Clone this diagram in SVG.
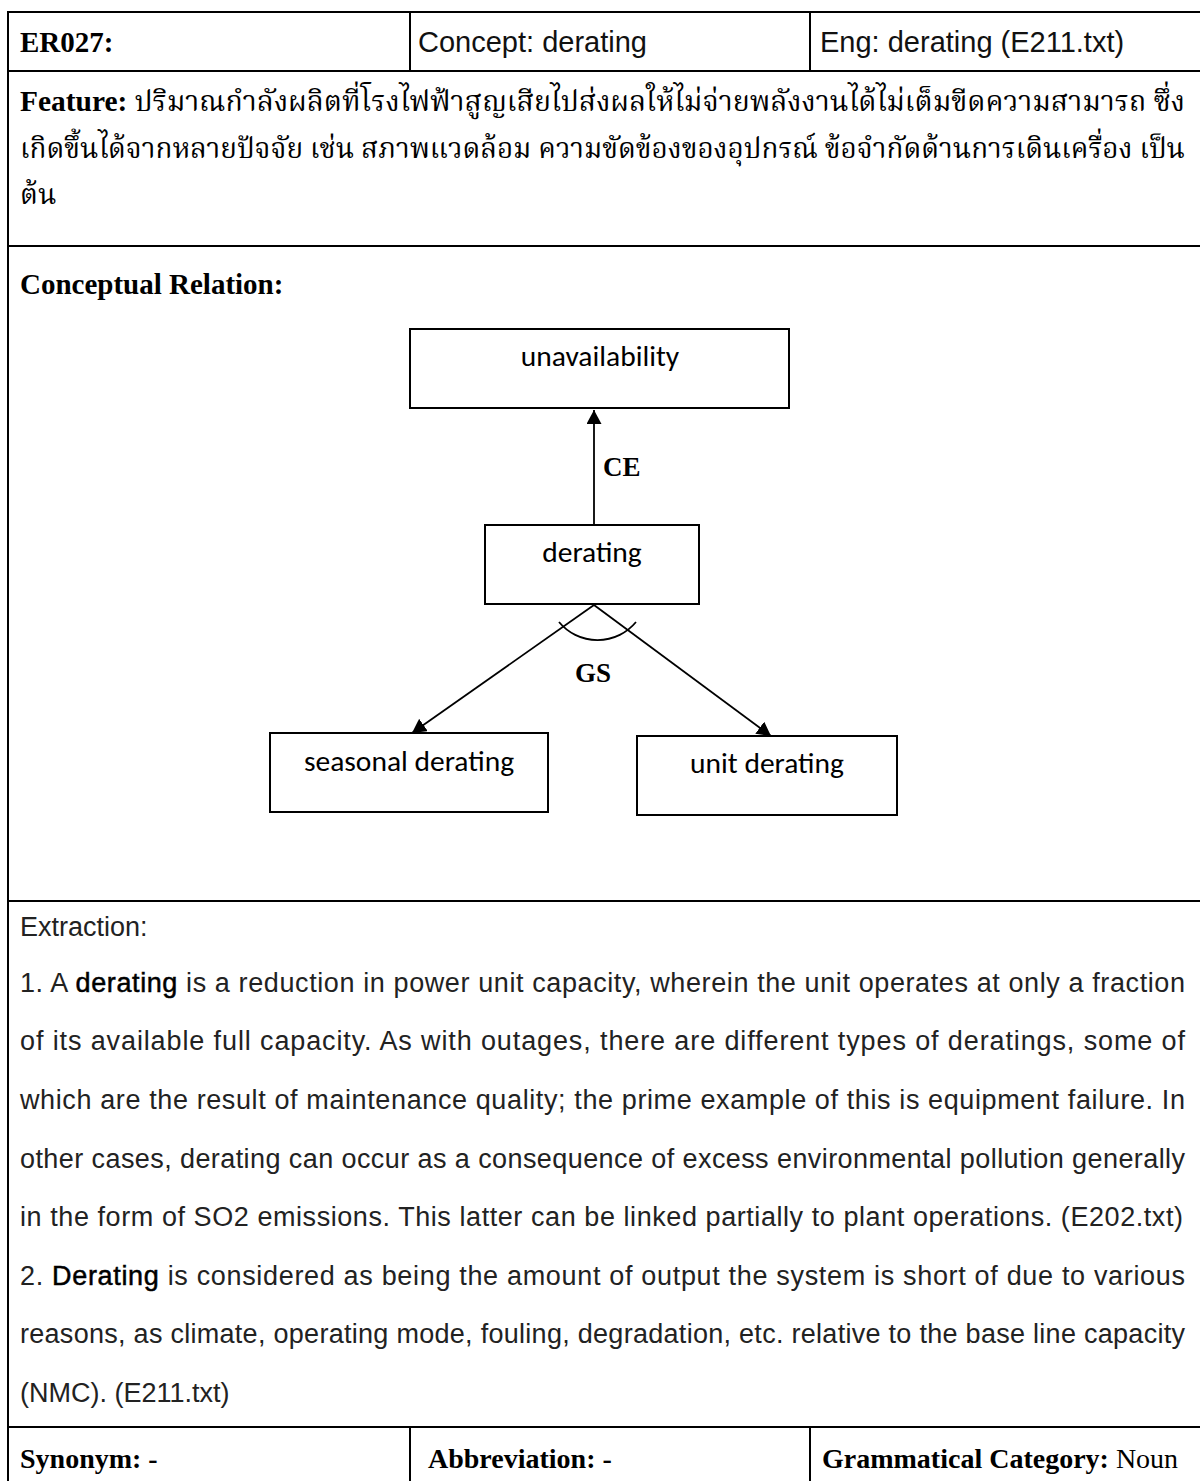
<svg xmlns="http://www.w3.org/2000/svg" width="1200" height="1481" viewBox="0 0 1200 1481">
  <style>
    .rule { stroke: #000; stroke-width: 2; fill: none; }
    .hb { font-family: "Liberation Serif", "Times New Roman", serif; font-weight: bold; font-size: 29px; fill: #000; }
    .fb { font-family: "Liberation Serif", "Times New Roman", serif; font-weight: bold; font-size: 28px; fill: #000; }
    .hs { font-family: "Liberation Sans", Arial, sans-serif; font-size: 29px; fill: #111; }
    .th { font-family: "Liberation Serif", "Noto Serif Thai", "Noto Sans Thai", serif; font-size: 28px; fill: #000; }
    .ex { font-family: "Liberation Sans", Arial, sans-serif; font-size: 27px; fill: #222; }
    .em { fill: #000; stroke: #000; stroke-width: 0.5; }
    .box { fill: #fff; stroke: #000; stroke-width: 2; }
    .lbl { font-family: Carlito, Lato, "Open Sans", sans-serif; font-size: 29.5px; fill: #000; text-anchor: middle; }
    .rel { font-family: "Liberation Serif", "Times New Roman", serif; font-weight: bold; font-size: 27px; fill: #000; }
    .edge { stroke: #000; stroke-width: 1.8; fill: none; }
  </style>
  <defs>
    <marker id="arrow" viewBox="0 0 14 15" refX="14" refY="7.5" markerWidth="14" markerHeight="15" markerUnits="userSpaceOnUse" orient="auto">
      <path d="M0,0 L14,7.5 L0,15 Z" fill="#000"/>
    </marker>
  </defs>

  <rect width="1200" height="1481" fill="#fff"/>

  <!-- table rules -->
  <g id="table">
    <line class="rule" x1="8" y1="12" x2="1200" y2="12"/>
    <line class="rule" x1="8" y1="71" x2="1200" y2="71"/>
    <line class="rule" x1="8" y1="246" x2="1200" y2="246"/>
    <line class="rule" x1="8" y1="901" x2="1200" y2="901"/>
    <line class="rule" x1="8" y1="1427" x2="1200" y2="1427"/>
    <line class="rule" x1="8" y1="11" x2="8" y2="1481"/>
    <line class="rule" x1="410" y1="12" x2="410" y2="71"/>
    <line class="rule" x1="810" y1="12" x2="810" y2="71"/>
    <line class="rule" x1="410" y1="1427" x2="410" y2="1481"/>
    <line class="rule" x1="810" y1="1427" x2="810" y2="1481"/>
  </g>

  <!-- header row -->
  <g id="header">
    <text class="hb" x="20" y="52">ER027:</text>
    <text class="hs" x="418" y="52">Concept: derating</text>
    <text class="hs" x="820" y="52">Eng: derating (E211.txt)</text>
  </g>

  <!-- feature row -->
  <g id="feature">
    <text class="th" x="20" y="111" textLength="1165" lengthAdjust="spacingAndGlyphs"><tspan class="hb">Feature:</tspan> ปริมาณกำลังผลิตที่โรงไฟฟ้าสูญเสียไปส่งผลให้ไม่จ่ายพลังงานได้ไม่เต็มขีดความสามารถ ซึ่ง</text>
    <text class="th" x="20" y="158" textLength="1165" lengthAdjust="spacingAndGlyphs">เกิดขึ้นได้จากหลายปัจจัย เช่น สภาพแวดล้อม ความขัดข้องของอุปกรณ์ ข้อจำกัดด้านการเดินเครื่อง เป็น</text>
    <text class="th" x="20" y="204">ต้น</text>
  </g>

  <!-- conceptual relation -->
  <text class="hb" x="20" y="294">Conceptual Relation:</text>

  <g id="connectors">
    <line class="edge" x1="594" y1="525" x2="594" y2="410" marker-end="url(#arrow)"/>
    <line class="edge" x1="594" y1="605" x2="412" y2="733" marker-end="url(#arrow)"/>
    <line class="edge" x1="594" y1="605" x2="771" y2="736" marker-end="url(#arrow)"/>
    <path class="edge" d="M559,622 A50,50 0 0 0 636,622"/>
    <text class="rel" x="603" y="476">CE</text>
    <text class="rel" x="593" y="682" text-anchor="middle">GS</text>
  </g>

  <g id="node-unavailability">
    <rect class="box" x="410" y="329" width="379" height="79"/>
    <text class="lbl" x="600" y="366">unavailability</text>
  </g>
  <g id="node-derating">
    <rect class="box" x="485" y="525" width="214" height="79"/>
    <text class="lbl" x="592" y="562">derating</text>
  </g>
  <g id="node-seasonal-derating">
    <rect class="box" x="270" y="733" width="278" height="79"/>
    <text class="lbl" x="409" y="771">seasonal derating</text>
  </g>
  <g id="node-unit-derating">
    <rect class="box" x="637" y="736" width="260" height="79"/>
    <text class="lbl" x="767" y="773">unit derating</text>
  </g>

  <!-- extraction row -->
  <g id="extraction">
    <text class="ex" x="20" y="936">Extraction:</text>
    <text class="ex" x="20" y="992" textLength="1165" lengthAdjust="spacing">1. A <tspan class="em">derating</tspan> is a reduction in power unit capacity, wherein the unit operates at only a fraction</text>
    <text class="ex" x="20" y="1050" textLength="1165" lengthAdjust="spacing">of its available full capacity. As with outages, there are different types of deratings, some of</text>
    <text class="ex" x="20" y="1109" textLength="1165" lengthAdjust="spacing">which are the result of maintenance quality; the prime example of this is equipment failure. In</text>
    <text class="ex" x="20" y="1168" textLength="1165" lengthAdjust="spacing">other cases, derating can occur as a consequence of excess environmental pollution generally</text>
    <text class="ex" x="20" y="1226" textLength="1163" lengthAdjust="spacing">in the form of SO2 emissions. This latter can be linked partially to plant operations. (E202.txt)</text>
    <text class="ex" x="20" y="1285" textLength="1165" lengthAdjust="spacing">2. <tspan class="em">Derating</tspan> is considered as being the amount of output the system is short of due to various</text>
    <text class="ex" x="20" y="1343" textLength="1165" lengthAdjust="spacing">reasons, as climate, operating mode, fouling, degradation, etc. relative to the base line capacity</text>
    <text class="ex" x="20" y="1402">(NMC). (E211.txt)</text>
  </g>

  <!-- footer row -->
  <g id="footer">
    <text class="fb" x="20" y="1468">Synonym: -</text>
    <text class="fb" x="428" y="1468">Abbreviation: -</text>
    <text class="fb" x="822" y="1468">Grammatical Category: <tspan font-weight="normal">Noun</tspan></text>
  </g>
</svg>
